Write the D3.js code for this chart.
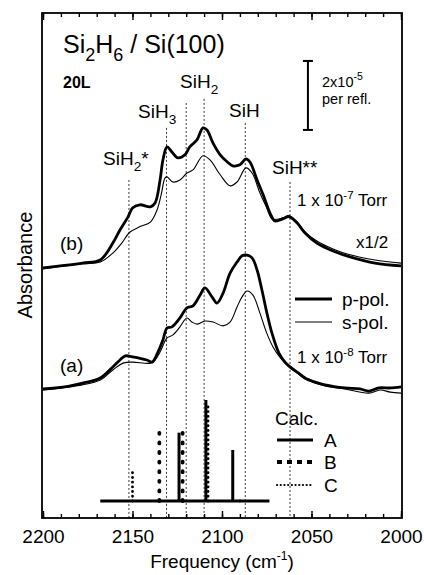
<!DOCTYPE html>
<html>
<head>
<meta charset="utf-8">
<script src="https://cdn.jsdelivr.net/npm/d3@7"></script>
<style>
  body { margin: 0; background: #fff; }
  svg { font-family: "Liberation Sans", Arial, sans-serif; }
</style>
</head>
<body>
<svg id="chart" width="424" height="575"></svg>
<script>
// --- data (absorbance in units of 1e-5, frequency in cm-1) ---
var bpFreq = [2200, 2178, 2168, 2161, 2157, 2152.5, 2150, 2146, 2140, 2137.4, 2134.6, 2133, 2130.7, 2128, 2124.6, 2120.7, 2118, 2114, 2110.6, 2108.4, 2105, 2101, 2097, 2094, 2090, 2086.6, 2084.4, 2080.4, 2077, 2073, 2070.4, 2066, 2062.6, 2058, 2053.6, 2047, 2038, 2028.5, 2014.5, 2000];
var bpAbs  = [0.0, 0.14, 0.23, 0.72, 1.10, 1.48, 1.74, 1.83, 1.77, 1.88, 2.55, 3.13, 3.51, 3.36, 3.19, 3.28, 3.51, 3.71, 4.06, 4.00, 3.62, 3.28, 3.07, 2.96, 2.99, 3.16, 3.07, 2.55, 2.12, 1.57, 1.36, 1.42, 1.49, 1.30, 1.01, 0.72, 0.49, 0.32, 0.14, 0.06];
var bsFreq = [2200, 2178, 2168, 2161, 2156, 2151.4, 2146, 2140, 2136.3, 2134, 2131.8, 2130.7, 2127.4, 2123.5, 2119.6, 2116.2, 2110.6, 2106.7, 2101, 2095.5, 2091.6, 2086.6, 2083.2, 2078.8, 2075, 2072, 2066, 2062.6, 2058, 2053.6, 2047, 2038, 2028.5, 2014.5, 2000];
var bsAbs  = [-0.03, 0.12, 0.17, 0.43, 0.72, 1.04, 1.19, 1.33, 1.68, 2.12, 2.61, 2.64, 2.49, 2.55, 2.75, 2.84, 3.25, 3.13, 2.70, 2.38, 2.49, 2.90, 2.75, 2.17, 1.74, 1.42, 1.45, 1.51, 1.33, 1.04, 0.78, 0.55, 0.38, 0.23, 0.14];
var apFreq = [2200, 2188, 2178, 2168, 2161, 2157, 2154, 2150, 2142, 2139, 2135.8, 2133, 2130.7, 2128, 2123.5, 2119.6, 2116.2, 2112.3, 2109.5, 2105.6, 2102.8, 2099.4, 2095.5, 2091.6, 2088.8, 2086, 2083.2, 2080.4, 2077.7, 2074.9, 2072.1, 2068.2, 2064.8, 2062, 2058, 2053.6, 2048, 2042.5, 2031.3, 2023, 2018, 2012.3, 2006, 2000];
var apAbs  = [0.0, 0.06, 0.17, 0.32, 0.64, 0.84, 0.96, 0.93, 0.84, 0.78, 1.07, 1.42, 1.77, 1.80, 2.06, 2.35, 2.41, 2.72, 2.93, 2.67, 2.49, 2.78, 3.36, 3.68, 3.86, 3.88, 3.80, 3.45, 2.87, 2.20, 1.62, 1.04, 0.78, 0.64, 0.49, 0.32, 0.20, 0.12, 0.03, 0.0, -0.06, 0.03, 0.03, 0.06];
var asFreq = [2200, 2178, 2168, 2161, 2155.3, 2150, 2140, 2137.4, 2134.6, 2130.7, 2127.4, 2123.5, 2119.6, 2116.8, 2114, 2109.5, 2105, 2099.4, 2095.5, 2091.6, 2088.8, 2086, 2082.7, 2078.8, 2075, 2071.5, 2068.2, 2064.8, 2062, 2058, 2053.6, 2042.5, 2031.3, 2018, 2011.7, 2006, 2000];
var asAbs  = [-0.03, 0.12, 0.26, 0.55, 0.75, 0.78, 0.75, 0.84, 1.07, 1.48, 1.57, 1.80, 2.06, 1.94, 1.88, 1.97, 1.94, 1.83, 1.94, 2.38, 2.67, 2.84, 2.72, 2.20, 1.62, 1.22, 0.96, 0.75, 0.61, 0.46, 0.29, 0.09, 0.0, -0.12, -0.03, -0.09, -0.12];
var traceOffsets = { a: 0, b: 3.51 };

// assignment lines (cm-1) and where their dotted lines start (absorbance units)
var refFreq = [2152, 2131, 2120, 2110, 2087, 2062];
var refTop  = [6.06, 7.57, 8.29, 8.41, 7.71, 6.0];

// calculated stick spectra (relative intensity)
var calcAFreq = [2124, 2109, 2094];
var calcAInt  = [0.67, 0.99, 0.5];
var calcBFreq = [2135, 2122];
var calcBInt  = [0.68, 0.75];
var calcCFreq = [2150, 2107.8, 2090];
var calcCInt  = [0.30, 0.96, 0.04];
var calcRange = [2168, 2073.5];

var xTicks = [2200, 2150, 2100, 2050, 2000];

// --- layout ---
var svg = d3.select('#chart');
var mLeft = 42, mRight = 402, mTop = 13, mBottom = 518;

var x = d3.scaleLinear().domain([2200, 2000]).range([mLeft + 1, mRight - 1]);
var y = d3.scaleLinear().domain([-3.74, 10.9]).range([mBottom, mTop]);
var yCalc = d3.scaleLinear().domain([0, 1]).range([501, 399]);

// dotted assignment lines
svg.append('g').selectAll('line').data(refFreq).enter().append('line')
  .attr('x1', d => x(d)).attr('x2', d => x(d))
  .attr('y1', (d, i) => y(refTop[i])).attr('y2', mBottom)
  .attr('stroke', '#222').attr('stroke-width', 0.9).attr('stroke-dasharray', '2,2');

// spectra
function drawTrace(freq, abs, off, w) {
  var pts = freq.map((f, i) => [f, abs[i] + off]);
  svg.append('path').datum(pts)
    .attr('d', d3.line().x(d => x(d[0])).y(d => y(d[1])).curve(d3.curveCatmullRom.alpha(0.5)))
    .attr('fill', 'none').attr('stroke', '#000').attr('stroke-width', w)
    .attr('stroke-linejoin', 'round');
}
drawTrace(bsFreq, bsAbs, traceOffsets.b, 1.1);
drawTrace(bpFreq, bpAbs, traceOffsets.b, 2.8);
drawTrace(asFreq, asAbs, traceOffsets.a, 1.1);
drawTrace(apFreq, apAbs, traceOffsets.a, 2.8);

// stick spectra
svg.append('line')
  .attr('x1', x(calcRange[0])).attr('x2', x(calcRange[1]))
  .attr('y1', yCalc(0)).attr('y2', yCalc(0))
  .attr('stroke', '#000').attr('stroke-width', 3);

var styles = {
  A: { w: 3, dash: null, cap: 'butt' },
  B: { w: 3.8, dash: '1,8.6', cap: 'round' },
  C: { w: 2.8, dash: '0.1,4.6', cap: 'round' }
};
function drawSticks(freq, inten, st) {
  svg.append('g').selectAll('line').data(freq).enter().append('line')
    .attr('x1', d => x(d)).attr('x2', d => x(d))
    .attr('y1', yCalc(0)).attr('y2', (d, i) => yCalc(inten[i]))
    .attr('stroke', '#000').attr('stroke-width', st.w)
    .attr('stroke-dasharray', st.dash).attr('stroke-linecap', st.cap);
}
drawSticks(calcCFreq, calcCInt, styles.C);
drawSticks(calcBFreq, calcBInt, styles.B);
drawSticks(calcAFreq, calcAInt, styles.A);

// axes
var minor = d3.range(2200, 1999, -10);
var noLabel = () => '';
svg.append('g').attr('transform', `translate(0,${mBottom})`)
  .call(d3.axisBottom(x).tickValues(minor).tickSizeInner(-4).tickSizeOuter(0).tickFormat(noLabel))
  .call(g => g.select('.domain').remove());
svg.append('g').attr('transform', `translate(0,${mBottom})`)
  .call(d3.axisBottom(x).tickValues(xTicks).tickSizeInner(-7).tickSizeOuter(0).tickPadding(12).tickFormat(d3.format('d')))
  .call(g => g.select('.domain').remove())
  .call(g => g.selectAll('text').attr('font-size', 19).attr('fill', '#000').attr('font-family', '"Liberation Sans", Arial, sans-serif'));
svg.append('g').attr('transform', `translate(0,${mTop})`)
  .call(d3.axisBottom(x).tickValues(minor).tickSizeInner(4).tickSizeOuter(0).tickFormat(noLabel))
  .call(g => g.select('.domain').remove());
svg.append('g').attr('transform', `translate(0,${mTop})`)
  .call(d3.axisBottom(x).tickValues(xTicks).tickSizeInner(7).tickSizeOuter(0).tickFormat(noLabel))
  .call(g => g.select('.domain').remove());
svg.selectAll('.tick line').attr('stroke', '#000').attr('stroke-width', 1.4);

svg.append('rect').attr('x', mLeft).attr('y', mTop)
  .attr('width', mRight - mLeft).attr('height', mBottom - mTop)
  .attr('fill', 'none').attr('stroke', '#000').attr('stroke-width', 1.8);

// axis titles
var xt = svg.append('text').attr('x', 222).attr('y', 568).attr('text-anchor', 'middle').attr('font-size', 19);
xt.append('tspan').text('Frequency  (cm');
xt.append('tspan').attr('dy', -8).attr('font-size', 12).text('-1');
xt.append('tspan').attr('dy', 8).text(')');

svg.append('text').attr('transform', 'translate(32,265) rotate(-90)')
  .attr('text-anchor', 'middle').attr('font-size', 20).text('Absorbance');

// title
function sub(t, parts, fs) {
  parts.forEach(p => {
    if (p.s) t.append('tspan').attr('dy', p.d).attr('font-size', fs * 0.72).text(p.s);
    else t.append('tspan').attr('dy', p.d || 0).text(p.t);
  });
  return t;
}
sub(svg.append('text').attr('x', 63).attr('y', 53).attr('font-size', 25),
  [{ t: 'Si' }, { s: '2', d: 8 }, { t: 'H', d: -8 }, { s: '6', d: 8 }, { t: ' / Si(100)', d: -8 }], 25);
svg.append('text').attr('x', 63).attr('y', 88).attr('font-size', 16).attr('font-weight', 'bold').text('20L');

// assignment labels
var fsL = 19;
sub(svg.append('text').attr('x', 103).attr('y', 165).attr('font-size', fsL),
  [{ t: 'SiH' }, { s: '2', d: 6 }, { t: '*', d: -6 }], fsL);
sub(svg.append('text').attr('x', 138).attr('y', 118).attr('font-size', fsL),
  [{ t: 'SiH' }, { s: '3', d: 6 }], fsL);
sub(svg.append('text').attr('x', 180).attr('y', 88).attr('font-size', fsL),
  [{ t: 'SiH' }, { s: '2', d: 6 }], fsL);
svg.append('text').attr('x', 229).attr('y', 117).attr('font-size', fsL).text('SiH');
svg.append('text').attr('x', 272).attr('y', 174).attr('font-size', fsL).text('SiH**');

// scale bar (2x10^-5)
var sbF = 2052, sb = [7.51, 9.51];
svg.append('line').attr('x1', x(sbF)).attr('x2', x(sbF)).attr('y1', y(sb[0])).attr('y2', y(sb[1]))
  .attr('stroke', '#000').attr('stroke-width', 2);
sb.forEach(v => svg.append('line').attr('x1', x(sbF) - 5).attr('x2', x(sbF) + 5)
  .attr('y1', y(v)).attr('y2', y(v)).attr('stroke', '#000').attr('stroke-width', 2));
var st = svg.append('text').attr('x', 322).attr('y', 87).attr('font-size', 14.5);
st.append('tspan').text('2x10');
st.append('tspan').attr('dy', -7).attr('font-size', 10.5).text('-5');
svg.append('text').attr('x', 322).attr('y', 104).attr('font-size', 14.5).text('per refl.');

// trace annotations
function torr(yy, exp) {
  var t = svg.append('text').attr('x', 297).attr('y', yy).attr('font-size', 17);
  t.append('tspan').text('1 x 10');
  t.append('tspan').attr('dy', -7).attr('font-size', 11.5).text(exp);
  t.append('tspan').attr('dy', 7).text(' Torr');
}
torr(206, '-7');
torr(363, '-8');
svg.append('text').attr('x', 356).attr('y', 248).attr('font-size', 17).text('x1/2');
svg.append('text').attr('x', 60).attr('y', 250).attr('font-size', 19).text('(b)');
svg.append('text').attr('x', 60).attr('y', 372).attr('font-size', 19).text('(a)');

// polarization legend
svg.append('line').attr('x1', 295).attr('x2', 332).attr('y1', 299).attr('y2', 299).attr('stroke', '#000').attr('stroke-width', 3);
svg.append('line').attr('x1', 295).attr('x2', 332).attr('y1', 322).attr('y2', 322).attr('stroke', '#000').attr('stroke-width', 1.1);
svg.append('text').attr('x', 342).attr('y', 306).attr('font-size', 19).text('p-pol.');
svg.append('text').attr('x', 342).attr('y', 329).attr('font-size', 19).text('s-pol.');

// calc legend
svg.append('text').attr('x', 275).attr('y', 425).attr('font-size', 19).text('Calc.');
[['A', 440], ['B', 462], ['C', 485]].forEach(function (d) {
  var s = styles[d[0]];
  svg.append('line').attr('x1', 277).attr('x2', 313).attr('y1', d[1]).attr('y2', d[1])
    .attr('stroke', '#000').attr('stroke-width', d[0] === 'C' ? 2.2 : s.w)
    .attr('stroke-dasharray', d[0] === 'B' ? '5,5' : (d[0] === 'C' ? '0.1,3.6' : s.dash))
    .attr('stroke-linecap', d[0] === 'B' ? 'butt' : s.cap);
  svg.append('text').attr('x', 324).attr('y', d[1] + 7).attr('font-size', 19).text(d[0]);
});
</script>
</body>
</html>
